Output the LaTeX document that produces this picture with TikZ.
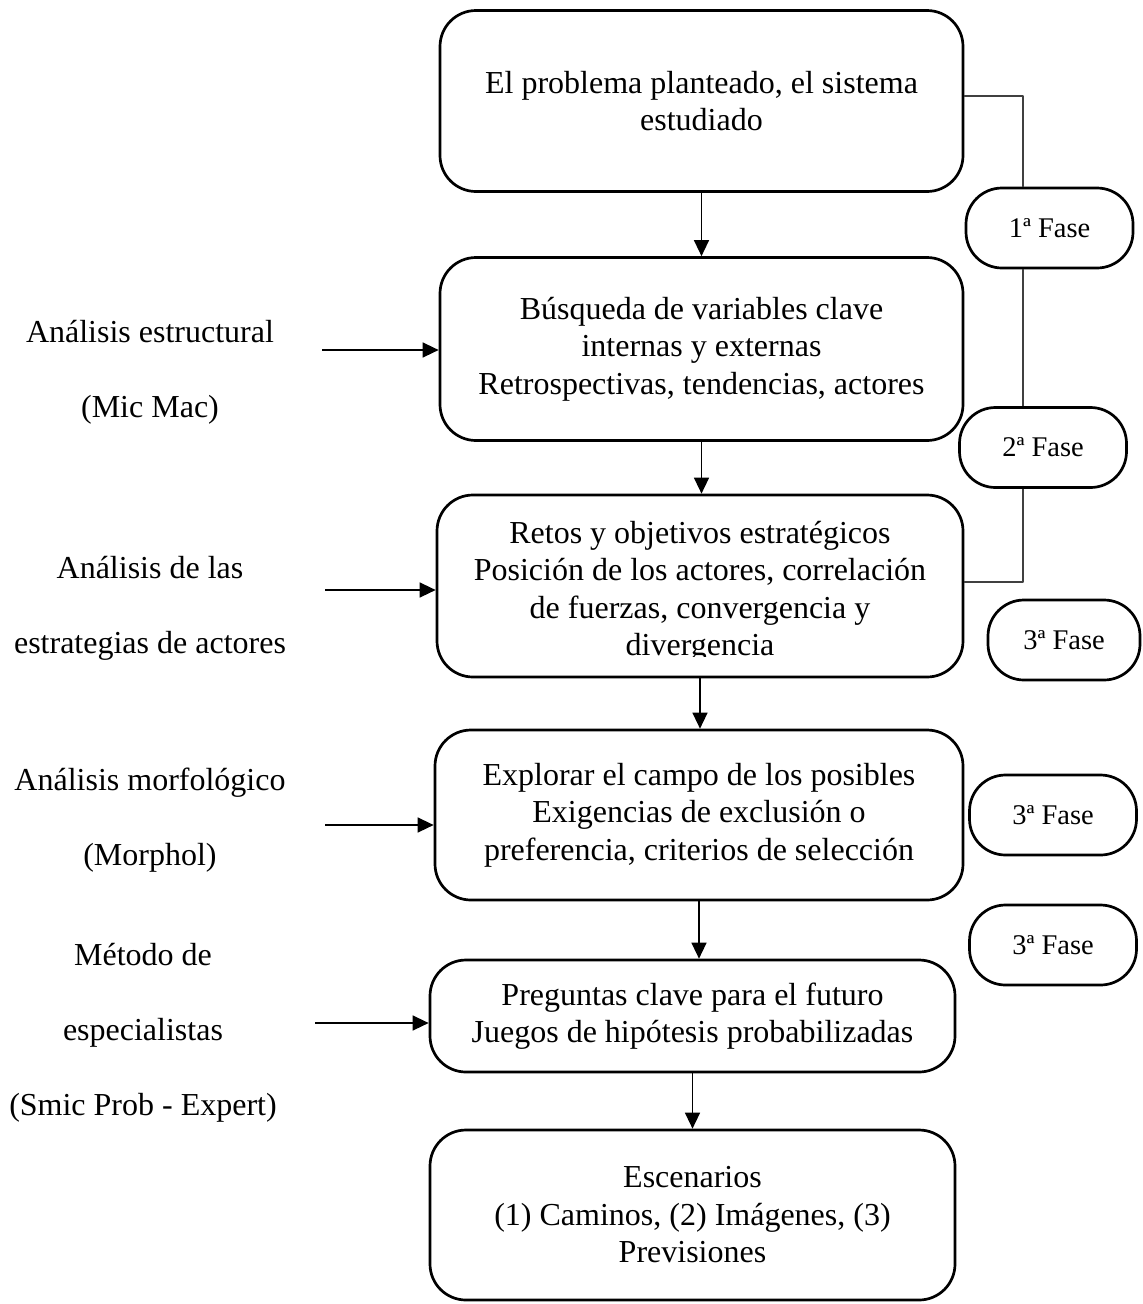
\documentclass[tikz,border=0pt]{standalone}
\usepackage{fontspec}
\setmainfont{Liberation Serif}
\usetikzlibrary{arrows.meta}

\tikzset{
  stage/.style={draw,line width=2.7pt,rounded corners=36pt,align=center,inner sep=0pt,font=\fontsize{32}{37.5}\selectfont},
  phase/.style={draw,line width=2.7pt,rounded corners=36pt,minimum width=167pt,minimum height=80pt,inner sep=0pt,font=\fontsize{28.5}{34}\selectfont},
  tool/.style={align=center,font=\fontsize{32}{75}\selectfont},
  flow/.style={-{Triangle[length=16pt,width=15pt]},line width=1.4pt},
  link/.style={draw=black!75,line width=1.3pt}
}

\begin{document}
\begin{tikzpicture}[x=1pt,y=-1pt,line join=round]
  \useasboundingbox (0,0) rectangle (1143,1304);

  % main chain of stages
  \node[stage,minimum width=523pt,minimum height=181pt] (B1) at (701.5,101) {El problema planteado, el sistema\\estudiado};
  \node[stage,minimum width=523pt,minimum height=183pt] (B2) at (701.5,349) {Búsqueda de variables clave\\internas y externas\\Retrospectivas, tendencias, actores};
  \node[stage,minimum width=526pt,minimum height=182pt] (B3) at (700,586) {};
  \begin{scope}
    \clip (437,495) rectangle (963,656);
    \node[stage,draw=none] (B3t) at (700,592) {Retos y objetivos estratégicos\\Posición de los actores, correlación\\de fuerzas, convergencia y\\divergencia};
  \end{scope}
  \node[stage,minimum width=528pt,minimum height=170pt] (B4) at (699,815) {Explorar el campo de los posibles\\Exigencias de exclusión o\\preferencia, criterios de selección};
  \node[stage,minimum width=525pt,minimum height=112pt] (B5) at (692.5,1016) {Preguntas clave para el futuro\\Juegos de hipótesis probabilizadas};
  \node[stage,minimum width=525pt,minimum height=170pt] (B6) at (692.5,1215) {Escenarios\\(1) Caminos, (2) Imágenes, (3)\\Previsiones};

  % phases on the right
  \node[phase] (F1) at (1049.5,228) {1ª Fase};
  \node[phase] (F2) at (1043,447.5) {2ª Fase};
  \node[phase,minimum width=152pt] (F3) at (1064,640) {3ª Fase};
  \node[phase] (F4) at (1053,815) {3ª Fase};
  \node[phase] (F5) at (1053,945) {3ª Fase};

  % methods on the left
  \node[tool] (L1) at (150,372.5) {Análisis estructural\\(Mic Mac)};
  \node[tool] (L2) at (150,608.5) {Análisis de las\\estrategias de actores};
  \node[tool] (L3) at (150,820) {Análisis morfológico\\(Morphol)};
  \node[tool] (L4) at (143,1033) {Método de\\especialistas\\(Smic Prob - Expert)};

  % arrows down the chain
  \draw[flow] (B1) -- (B1 |- B2.north);
  \draw[flow] (B2) -- (B2 |- B3.north);
  \draw[flow] (B3.south) -- (B3 |- B4.north);
  \draw[flow] (B4.south) -- (B4 |- B5.north);
  \draw[flow] (B5) -- (B5 |- B6.north);

  % arrows from the methods
  \coordinate (a1) at (322,350);
  \coordinate (a2) at (325,590);
  \coordinate (a3) at (325,825);
  \coordinate (a4) at (315,1023);
  \draw[flow] (a1) -- (a1 -| B2.west);
  \draw[flow] (a2) -- (a2 -| B3.west);
  \draw[flow] (a3) -- (a3 -| B4.west);
  \draw[flow] (a4) -- (a4 -| B5.west);

  % phase link
  \coordinate (kx) at (1023,0);
  \draw[link] (B1.east |- 0,96) -| (F1.north -| kx);
  \draw[link] (F1.south -| kx) -- (F2.north -| kx);
  \draw[link] (F2.south -| kx) |- (B3.east |- 0,582);
\end{tikzpicture}
\end{document}
